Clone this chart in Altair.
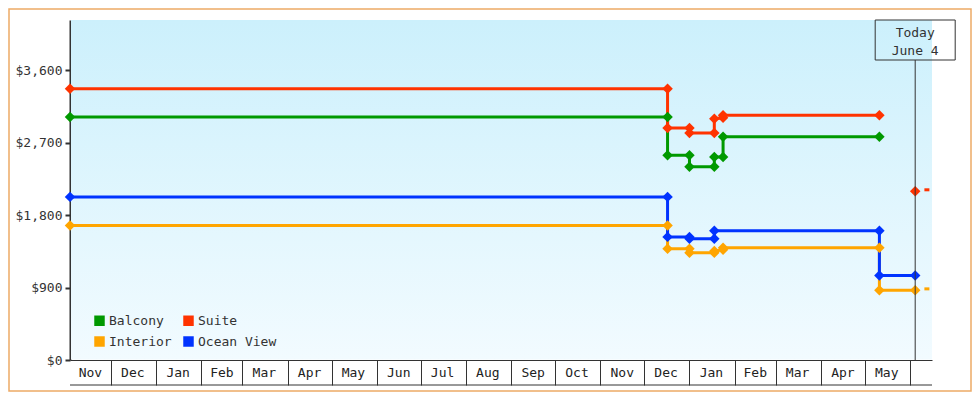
import altair as alt
import pandas as pd

# ---------------- data ----------------
series_names = ["Balcony", "Suite", "Interior", "Ocean View"]
series_colors = ["#009900", "#FF3300", "#FFA500", "#0033FF"]
legend_order = ["Balcony", "Interior", "Suite", "Ocean View"]

today = "2019-06-04T12:00:00"

balcony_dates = ["2017-11-03", "2018-12-17", "2018-12-17", "2019-01-01", "2019-01-01",
                 "2019-01-18", "2019-01-18", "2019-01-24", "2019-01-24", "2019-05-11"]
balcony_prices = [3021, 3021, 2544, 2544, 2400, 2400, 2524, 2524, 2773, 2773]

suite_dates = ["2017-11-03", "2018-12-17", "2018-12-17", "2019-01-01", "2019-01-01",
               "2019-01-18", "2019-01-18", "2019-01-24", "2019-01-24", "2019-05-11"]
suite_prices = [3370, 3370, 2884, 2884, 2822, 2822, 2999, 3010, 3040, 3040]
suite_today_price = 2097

interior_dates = ["2017-11-03", "2018-12-17", "2018-12-17", "2019-01-01", "2019-01-01",
                  "2019-01-18", "2019-01-18", "2019-01-24", "2019-01-24", "2019-05-11",
                  "2019-05-11", "today"]
interior_prices = [1671, 1671, 1381, 1381, 1332, 1332, 1355, 1370, 1395, 1395, 867, 867]

ocean_dates = ["2017-11-03", "2018-12-17", "2018-12-17", "2019-01-01", "2019-01-01",
               "2019-01-18", "2019-01-18", "2019-05-11", "2019-05-11", "today"]
ocean_prices = [2027, 2027, 1530, 1530, 1506, 1506, 1605, 1605, 1050, 1050]

dash_series = ["Suite", "Interior"]
dash_prices = [2115, 884]

month_labels = ["Nov", "Dec", "Jan", "Feb", "Mar", "Apr", "May", "Jun", "Jul", "Aug",
                "Sep", "Oct", "Nov", "Dec", "Jan", "Feb", "Mar", "Apr", "May"]
month_label_dates = ["2017-11-17", "2017-12-16", "2018-01-16", "2018-02-15", "2018-03-16",
                     "2018-04-16", "2018-05-16", "2018-06-16", "2018-07-16", "2018-08-16",
                     "2018-09-16", "2018-10-16", "2018-11-16", "2018-12-16", "2019-01-16",
                     "2019-02-15", "2019-03-16", "2019-04-16", "2019-05-16"]

y_ticks = [0, 900, 1800, 2700, 3600]
today_lines = ["Today", "June 4"]

# ---------------- tables ----------------
def fix(d):
    return today if d == "today" else d + "T00:00:00"

rows = []
idx = 0
for name, ds, ps in [("Balcony", balcony_dates, balcony_prices),
                     ("Suite", suite_dates, suite_prices),
                     ("Interior", interior_dates, interior_prices),
                     ("Ocean View", ocean_dates, ocean_prices)]:
    for d, p in zip(ds, ps):
        rows.append({"series": name, "date": fix(d), "price": p, "seg": 0, "idx": idx})
        idx += 1
rows.append({"series": "Suite", "date": today, "price": suite_today_price, "seg": 1, "idx": idx})
df = pd.DataFrame(rows)

dash_date = (pd.Timestamp(today) + pd.Timedelta(days=8)).strftime("%Y-%m-%dT%H:%M:%S")
dash_df = pd.DataFrame({"series": dash_series, "price": dash_prices,
                        "date": [dash_date] * len(dash_series)})

months_df = pd.DataFrame({"label": month_labels,
                          "date": [d + "T00:00:00" for d in month_label_dates]})
today_df = pd.DataFrame({"date": [today]})

W, H = 862, 340
FONT = "DejaVu Sans Mono"
INK = "#333333"

tick_values = []
y, m = 2017, 12
while (y, m) <= (2019, 6):
    tick_values.append(alt.DateTime(year=y, month=m, date=1))
    m += 1
    if m == 13:
        y, m = y + 1, 1

x_enc = alt.X(
    "date:T",
    scale=alt.Scale(domain=[alt.DateTime(year=2017, month=11, date=3),
                            alt.DateTime(year=2019, month=6, date=16)], nice=False),
    axis=alt.Axis(values=tick_values, labels=False, title=None, grid=False,
                  tickSize=25, tickColor=INK, tickWidth=1, domainColor=INK,
                  domainWidth=1),
)
y_enc = alt.Y(
    "price:Q",
    scale=alt.Scale(domain=[0, 4225], nice=False),
    axis=alt.Axis(values=y_ticks, format="$,.0f", title=None, grid=False,
                  tickSize=5, tickWidth=2, tickColor=INK, domainColor=INK,
                  domainWidth=2, labelFont=FONT, labelFontSize=13,
                  labelColor=INK, labelPadding=3),
)
color_scale = alt.Scale(domain=series_names, range=series_colors)

one = pd.DataFrame({"a": [0]})

bg = alt.Chart(one).mark_rect(
    color=alt.Gradient(gradient="linear", x1=0, x2=0, y1=0, y2=1,
                       stops=[alt.GradientStop(color="#CCF0FC", offset=0),
                              alt.GradientStop(color="#F2FBFF", offset=1)])
).encode(x=alt.value(1), x2=alt.value(W), y=alt.value(0), y2=alt.value(H - 0.5))

border = alt.Chart(one).mark_rect(filled=False, stroke="#EDAA66", strokeWidth=1.5).encode(
    x=alt.value(-61), x2=alt.value(901), y=alt.value(-11), y2=alt.value(371))

bottom_line = alt.Chart(one).mark_rule(color=INK, strokeWidth=1).encode(
    x=alt.value(0), x2=alt.value(W), y=alt.value(365))

lines = alt.Chart(df).mark_line(strokeWidth=3).encode(
    x=x_enc, y=y_enc,
    color=alt.Color("series:N", scale=color_scale, legend=None),
    detail="seg:N",
    order="idx:Q",
)

points = alt.Chart(df).mark_point(shape="diamond", filled=True, size=110, opacity=1).encode(
    x=x_enc, y=y_enc,
    color=alt.Color("series:N", scale=color_scale,
                    legend=alt.Legend(title=None, orient="none", legendX=23, legendY=294,
                                      columns=2, values=legend_order,
                                      symbolType="square", symbolSize=110,
                                      symbolStrokeWidth=0, labelFont=FONT, labelFontSize=13,
                                      labelColor=INK, columnPadding=10, rowPadding=7,
                                      labelOffset=3, padding=0)),
)

dashes = alt.Chart(dash_df).mark_tick(orient="horizontal", size=5, thickness=3, opacity=1).encode(
    x=x_enc, y=y_enc,
    color=alt.Color("series:N", scale=color_scale, legend=None),
)

month_text = alt.Chart(months_df).mark_text(font=FONT, fontSize=13, color="#222222",
                                            baseline="middle", align="center").encode(
    x=x_enc, y=alt.value(353), text="label:N")

today_rule = alt.Chart(today_df).mark_rule(color=INK, strokeWidth=1).encode(
    x=x_enc, y=alt.value(40), y2=alt.value(H))
today_box = alt.Chart(today_df).mark_rect(filled=False, stroke=INK, strokeWidth=1,
                                          xOffset=-40, x2Offset=40).encode(
    x=x_enc, x2=alt.X2("date:T"), y=alt.value(0), y2=alt.value(40))
today_t1 = alt.Chart(today_df).mark_text(font=FONT, fontSize=13, color=INK,
                                         baseline="middle", text=today_lines[0]).encode(
    x=x_enc, y=alt.value(13))
today_t2 = alt.Chart(today_df).mark_text(font=FONT, fontSize=13, color=INK,
                                         baseline="middle", text=today_lines[1]).encode(
    x=x_enc, y=alt.value(31))

chart = alt.layer(
    bg, bottom_line, lines, points, dashes, month_text,
    today_rule, today_box, today_t1, today_t2, border
).resolve_legend(color="independent").properties(
    width=W, height=H,
    padding={"left": 62, "top": 12, "right": 40, "bottom": 32},
    autosize=alt.AutoSizeParams(type="none"),
    background="white",
).configure_view(stroke=None)

chart.save("out.html", embed_options={"renderer": "svg", "actions": False})
